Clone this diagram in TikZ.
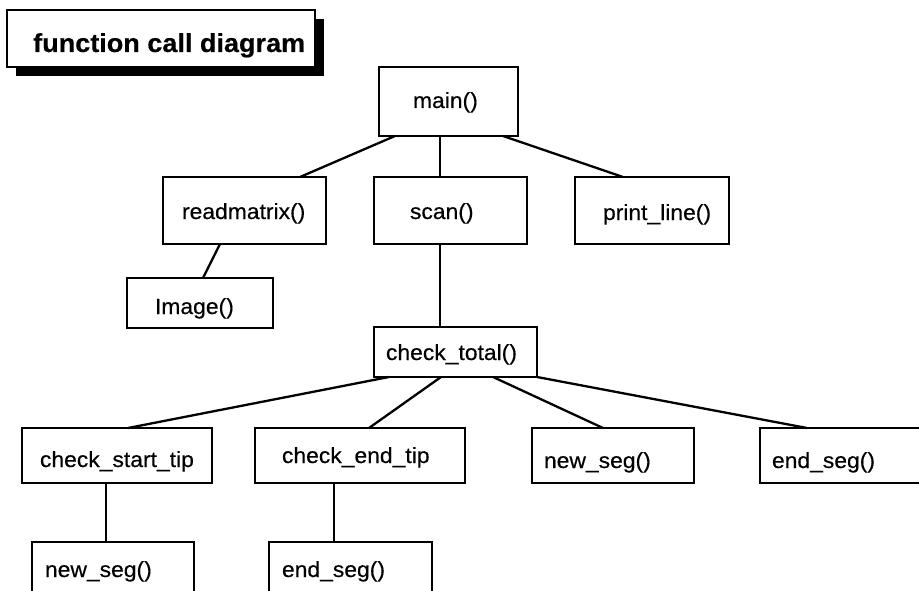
\documentclass[tikz,border=0pt]{standalone}
\usepackage{fontspec}
\setmainfont{Liberation Sans}[FakeStretch=1.04, FakeBold=0.4]
\usetikzlibrary{shadows}
\tikzset{
  fbox/.style={draw, line width=1.7pt, outer sep=0pt, inner sep=0pt},
  txt/.style={anchor=base west, inner sep=0pt, outer sep=0pt,
    font=\fontsize{22}{26}\selectfont},
  link/.style={line width=2.3pt},
  titlebox/.style={draw, line width=1.8pt, fill=white, outer sep=0pt, inner sep=0pt,
    drop shadow={shadow xshift=9pt, shadow yshift=-9pt, fill=black, opacity=1}},
  titletxt/.style={anchor=base west, inner sep=0pt,
    font=\bfseries\fontsize{26}{30}\selectfont},
}
% \callbox{name}{x1}{y1}{x2}{y2}{text x}{baseline y}{text}
\newcommand\callbox[8]{%
  \pgfmathsetmacro\cbw{#4-#2}%
  \pgfmathsetmacro\cbh{#5-#3}%
  \node[fbox, minimum width=\cbw pt, minimum height=\cbh pt]
    (#1) at ({(#2+#4)/2},{(#3+#5)/2}) {};%
  \node[txt] (#1-t) at (#6,#7) {#8};%
}
\begin{document}
\begin{tikzpicture}[x=1pt, y=-1pt]
  \useasboundingbox (0,0) rectangle (919,591);
  \clip (0,0) rectangle (919,591);

  % heading with its heavy shadow
  \node[titlebox, minimum width=308pt, minimum height=57pt] (title) at (161,38.5) {};
  \node[titletxt] (title-t) at (33,52) {function call diagram};

  % call tree boxes
  \callbox{main}{379}{67}{518}{136}{413}{108}{main()}
  \callbox{readmatrix}{163}{177}{326}{244}{182}{219}{readmatrix()}
  \callbox{scan}{374}{177}{527}{244}{410}{219}{scan()}
  \callbox{printline}{575}{177}{729}{244}{603}{220}{print\_line()}
  \callbox{image}{127}{278}{273}{328}{155}{314}{Image()}
  \callbox{checktotal}{374}{327}{537}{377}{386}{360}{check\_total()}
  \callbox{starttip}{22}{428}{212}{483}{40}{467}{check\_start\_tip}
  \callbox{endtip}{255}{428}{465}{483}{282}{463}{check\_end\_tip}
  \callbox{newsegA}{532}{428}{694}{483}{544}{468}{new\_seg()}
  \callbox{endsegA}{760}{428}{935}{483}{772}{468}{end\_seg()}
  \callbox{newsegB}{32}{542}{194}{600}{45}{577}{new\_seg()}
  \callbox{endsegB}{269}{542}{432}{600}{282}{577}{end\_seg()}

  % calls
  \draw[link] (main.south -| 395,0) -- (readmatrix.north -| 300,0);
  \draw[link] (main.south -| 440,0) -- (scan.north -| 440,0);
  \draw[link] (main.south -| 503,0) -- (printline.north -| 623,0);
  \draw[link] (readmatrix.south -| 220,0) -- (image.north -| 203,0);
  \draw[link] (scan.south -| 440,0) -- (checktotal.north -| 440,0);
  \draw[link] (checktotal.south -| 389,0) -- (starttip.north -| 128,0);
  \draw[link] (checktotal.south -| 441,0) -- (endtip.north -| 369,0);
  \draw[link] (checktotal.south -| 493,0) -- (newsegA.north -| 603,0);
  \draw[link] (checktotal.south east) -- (endsegA.north -| 807,0);
  \draw[link] (starttip.south -| 106,0) -- (newsegB.north -| 106,0);
  \draw[link] (endtip.south -| 334,0) -- (endsegB.north -| 334,0);
\end{tikzpicture}
\end{document}
